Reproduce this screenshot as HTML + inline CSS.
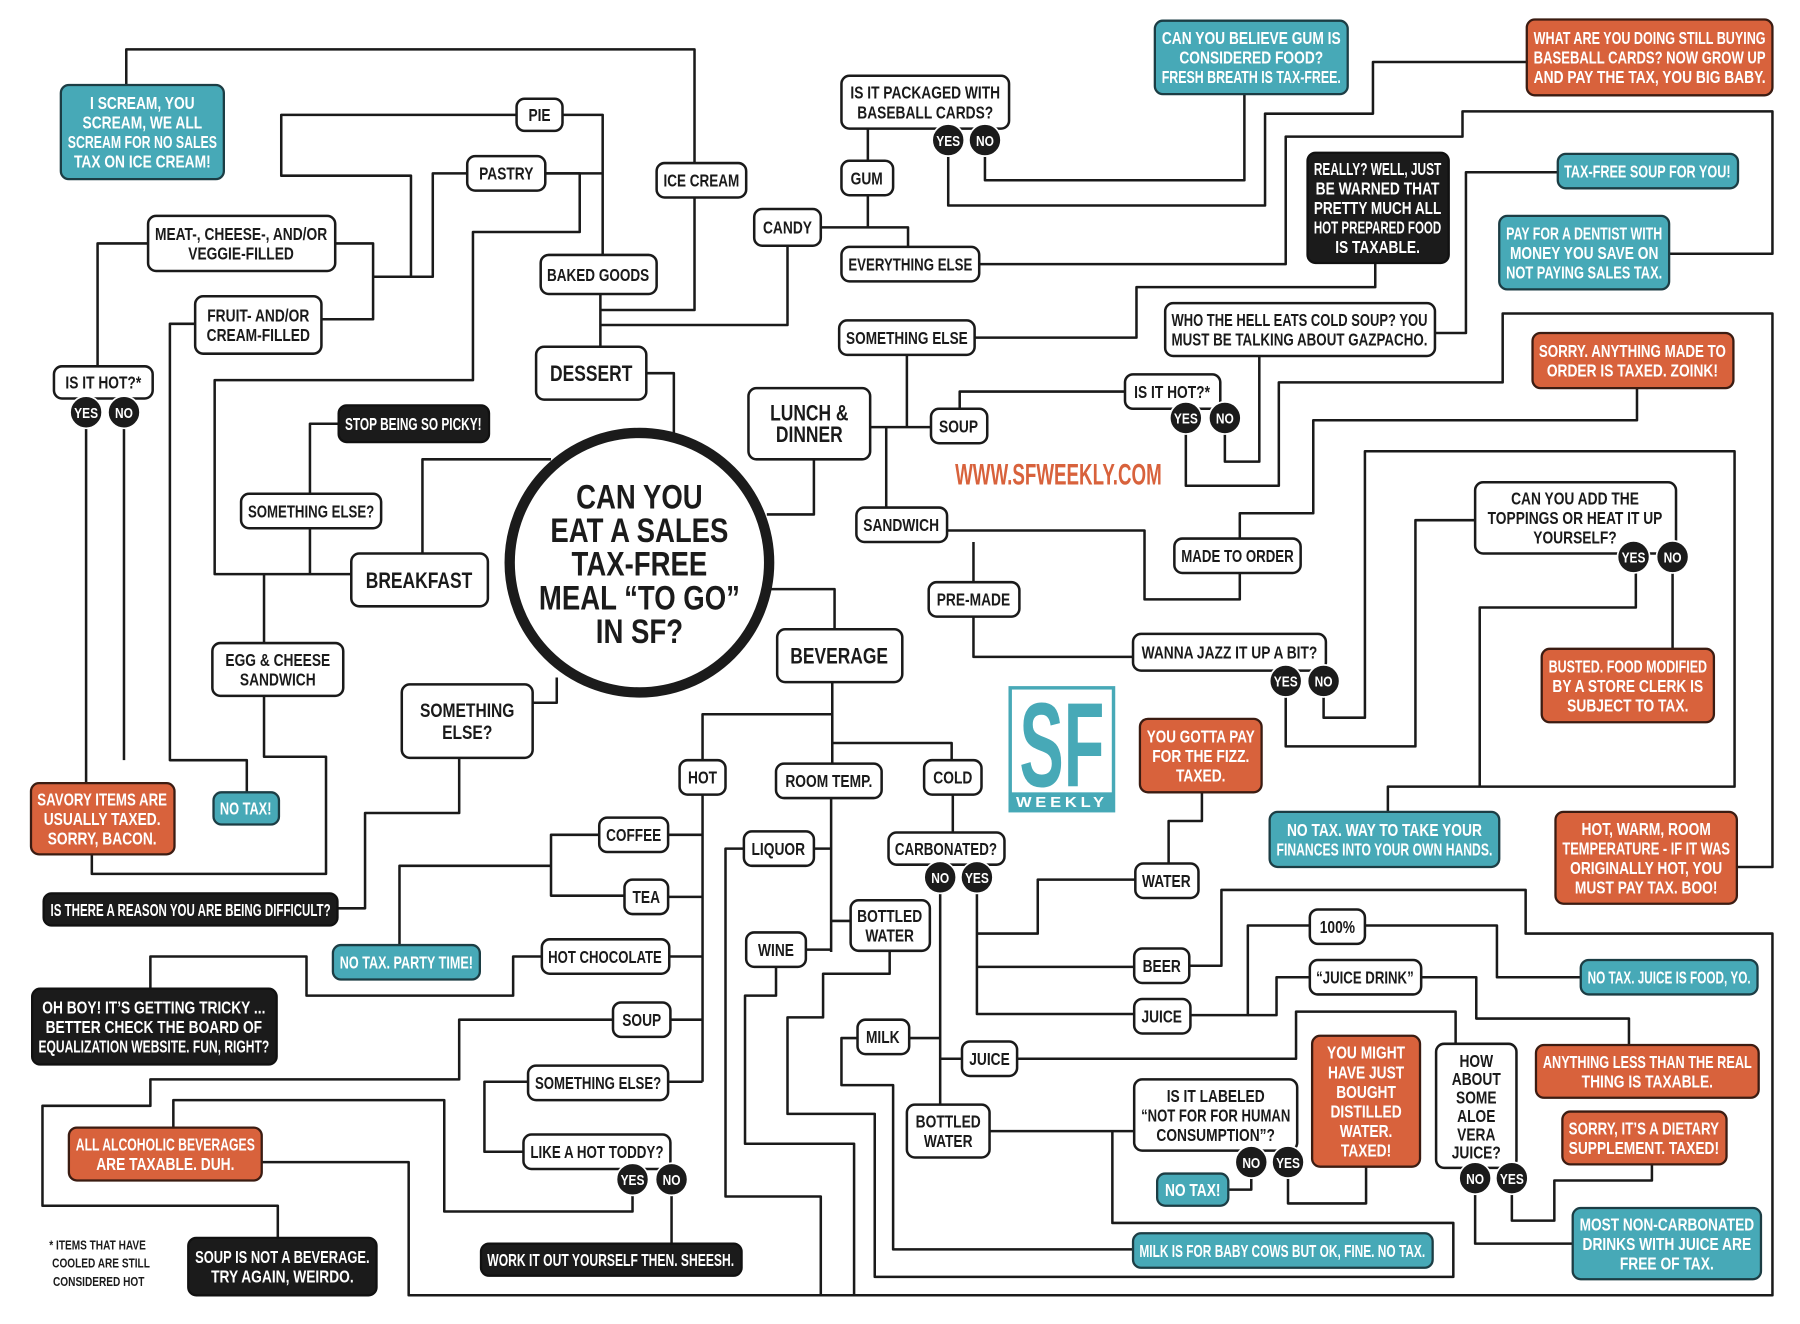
<!DOCTYPE html>
<html><head><meta charset="utf-8">
<style>
html,body{margin:0;padding:0;background:#fff;width:1800px;height:1324px;overflow:hidden}
svg{display:block}
text{font-family:"Liberation Sans Narrow","Liberation Sans",sans-serif;font-weight:bold;text-anchor:middle;font-size:15px}
.c{fill:none;stroke:#1a1a1a;stroke-width:2.2;stroke-linejoin:round}
.w{fill:#fff;stroke:#1a1a1a;stroke-width:2.2}
.t{fill:#47a9b7;stroke:#1c3d44;stroke-width:2}
.o{fill:#d8623c;stroke:#3b1c12;stroke-width:2}
.k{fill:#1b1b1b;stroke:#111;stroke-width:2}
.wt text{fill:#1a1a1a}
.ct text{fill:#fff}
.yn circle{fill:#1b1b1b;stroke:#fff;stroke-width:1.5}
.yn text{fill:#fff;font-size:13px}
.big text{font-size:19px}
</style></head><body>
<svg width="1800" height="1324" viewBox="0 0 1568 1153" preserveAspectRatio="none" xmlns="http://www.w3.org/2000/svg">
<rect width="1568" height="1153" fill="#fff"/>
<g class="c">
<polyline points="110,74 110,43 605,43 605,270 523,270"/>
<polyline points="523,256 523,302"/>
<polyline points="686,214 686,283 523,283"/>
<polyline points="490,100 525,100 525,222"/>
<polyline points="475,151 525,151"/>
<polyline points="475,151 505,151 505,202 412,202 412,331 187,331 187,500 306,500"/>
<polyline points="450,100 245,100 245,153 358,153 358,241"/>
<polyline points="407,151 377,151 377,241 325,241"/>
<polyline points="292,212 325,212 325,278 280,278"/>
<polyline points="129,212 85,212 85,319"/>
<polyline points="170,282 148,282 148,662 215,662 215,690"/>
<polyline points="108,373 108,662"/>
<polyline points="75,373 75,682"/>
<polyline points="230,560 230,500"/>
<polyline points="230,606 230,659 284,659 284,761 80,761 80,744"/>
<polyline points="295,369 270,369 270,430"/>
<polyline points="270,460 270,500"/>
<polyline points="368,482 368,400 480,400"/>
<polyline points="563,325 587,325 587,378"/>
<polyline points="709,400 709,448 668,448"/>
<polyline points="672,513 727,513 727,548"/>
<polyline points="464,612 485,612 485,590"/>
<polyline points="400,660 400,708 318,708 318,791 294,791"/>
<polyline points="758,372 811,372"/>
<polyline points="790,309 790,372"/>
<polyline points="772,372 772,442"/>
<polyline points="849,294 990,294 990,250 1198,250 1198,229"/>
<polyline points="853,230 1120,230 1120,119 1274,119 1274,97 1544,97 1544,221 1454,221"/>
<polyline points="826,136 826,179 1102,179 1102,99 1196,99 1196,54 1330,54"/>
<polyline points="858,136 858,157 1084,157 1084,82"/>
<polyline points="715,198 791,198 791,215"/>
<polyline points="756,170 756,198"/>
<polyline points="756,140 756,112"/>
<polyline points="836,356 836,341 980,341"/>
<polyline points="1033,378 1033,423 1114,423 1114,333 1309,333 1309,273 1544,273 1544,755 1513,755"/>
<polyline points="1067,378 1067,402 1097,402 1097,310"/>
<polyline points="1250,290 1277,290 1277,150 1357,150"/>
<polyline points="825,462 997,462 997,522 1080,522 1080,499"/>
<polyline points="1080,469 1080,447 1144,447 1144,366 1426,366 1426,338"/>
<polyline points="848,472 848,507"/>
<polyline points="848,537 848,572 987,572"/>
<polyline points="1120,607 1120,650 1233,650 1233,453 1285,453"/>
<polyline points="1153,607 1153,625 1189,625 1189,393 1511,393 1511,685 1209,685 1209,707"/>
<polyline points="1425,499 1425,529 1289,529 1289,685"/>
<polyline points="1457,499 1457,565"/>
<polyline points="725,594 725,665"/>
<polyline points="725,622 612,622 612,662"/>
<polyline points="725,647 829,647 829,662"/>
<polyline points="612,692 612,942"/>
<polyline points="582,727 612,727"/>
<polyline points="582,781 612,781"/>
<polyline points="583,833 612,833"/>
<polyline points="584,888 612,888"/>
<polyline points="582,942 612,942"/>
<polyline points="522,727 480,727 480,780 544,780"/>
<polyline points="480,754 348,754 348,823"/>
<polyline points="472,833 447,833 447,867 267,867 267,833 131,833 131,861"/>
<polyline points="534,888 400,888 400,940 131,940 131,963 37,963 37,1050 242,1050 242,1078"/>
<polyline points="460,942 422,942 422,1003 456,1003"/>
<polyline points="551,1041 551,1055 387,1055 387,958 151,958 151,982"/>
<polyline points="585,1041 585,1083"/>
<polyline points="228,1012 356,1012 356,1128 1544,1128 1544,813 1329,813 1329,775 1064,775 1064,841 1036,841"/>
<polyline points="724,695 724,829"/>
<polyline points="709,739 724,739"/>
<polyline points="702,827 724,827"/>
<polyline points="724,802 741,802"/>
<polyline points="648,739 632,739 632,1042 715,1042 715,1128"/>
<polyline points="676,842 676,867 649,867 649,996 744,996 744,1128"/>
<polyline points="775,828 775,848 717,848 717,886 686,886 686,970 762,970 762,1112 1266,1112 1266,1065 969,1065 969,985"/>
<polyline points="747,904 733,904 733,945 778,945 778,1088 987,1088"/>
<polyline points="792,904 819,904"/>
<polyline points="830,692 830,725"/>
<polyline points="819,778 819,962"/>
<polyline points="819,922 838,922"/>
<polyline points="851,778 851,883 988,883"/>
<polyline points="851,813 904,813 904,766 989,766"/>
<polyline points="851,842 988,842"/>
<polyline points="1018,752 1018,715 1047,715 1047,690"/>
<polyline points="862,985 988,985"/>
<polyline points="886,922 1129,922 1129,881 1268,881 1268,909"/>
<polyline points="1037,884 1087,884 1087,806 1141,806"/>
<polyline points="1087,884 1112,884 1112,851 1141,851"/>
<polyline points="1189,806 1304,806 1304,851 1377,851"/>
<polyline points="1238,851 1286,851 1286,887 1419,887 1419,910"/>
<polyline points="1317,1040 1317,1063 1354,1063 1354,1028 1439,1028 1439,1014"/>
<polyline points="1285,1040 1285,1083 1370,1083"/>
<polyline points="1090,1026 1090,1036 1070,1036"/>
<polyline points="1122,1026 1122,1048 1190,1048 1190,1016"/>
</g>

<circle cx="557" cy="490" r="113" fill="#fff" stroke="#1b1b1b" stroke-width="9"/>
<g fill="#1b1b1b">
<text class="cz" x="557" y="443" style="font-size:30px">CAN YOU</text>
<text class="cz" x="557" y="472" style="font-size:30px">EAT A SALES</text>
<text class="cz" x="557" y="501" style="font-size:30px">TAX-FREE</text>
<text class="cz" x="557" y="531" style="font-size:30px">MEAL “TO GO”</text>
<text class="cz" x="557" y="560" style="font-size:30px">IN SF?</text>
</g>

<g class="n ct"><rect class="t" x="53" y="74" width="142" height="82" rx="7"/><text x="124" y="95">I SCREAM, YOU</text><text x="124" y="112">SCREAM, WE ALL</text><text x="124" y="129">SCREAM FOR NO SALES</text><text x="124" y="146">TAX ON ICE CREAM!</text></g>
<g class="n wt"><rect class="w" x="450" y="86" width="40" height="28" rx="7"/><text x="470" y="105.5">PIE</text></g>
<g class="n wt"><rect class="w" x="407" y="136" width="68" height="30" rx="7"/><text x="441" y="156.5">PASTRY</text></g>
<g class="n wt"><rect class="w" x="572" y="142" width="78" height="30" rx="7"/><text x="611" y="162.5">ICE CREAM</text></g>
<g class="n wt"><rect class="w" x="129" y="188" width="163" height="48" rx="7"/><text x="210" y="209">MEAT-, CHEESE-, AND/OR</text><text x="210" y="226">VEGGIE-FILLED</text></g>
<g class="n wt"><rect class="w" x="471" y="222" width="101" height="34" rx="7"/><text x="521" y="244.5">BAKED GOODS</text></g>
<g class="n wt"><rect class="w" x="170" y="258" width="110" height="50" rx="7"/><text x="225" y="280">FRUIT- AND/OR</text><text x="225" y="297">CREAM-FILLED</text></g>
<g class="n wt big"><rect class="w" x="467" y="302" width="96" height="46" rx="7"/><text x="515" y="332">DESSERT</text></g>
<g class="n wt"><rect class="w" x="47" y="319" width="86" height="28" rx="7"/><text x="90" y="338.5">IS IT HOT?*</text></g>
<g class="n ct"><rect class="k" x="295" y="353" width="131" height="32" rx="7"/><text x="360" y="374.5">STOP BEING SO PICKY!</text></g>
<g class="n wt"><rect class="w" x="210" y="430" width="122" height="30" rx="7"/><text x="271" y="450.5">SOMETHING ELSE?</text></g>
<g class="n wt big"><rect class="w" x="306" y="482" width="119" height="46" rx="7"/><text x="365" y="512">BREAKFAST</text></g>
<g class="n wt"><rect class="w" x="185" y="560" width="114" height="46" rx="7"/><text x="242" y="580">EGG &amp; CHEESE</text><text x="242" y="597">SANDWICH</text></g>
<g class="n wt"><rect class="w" x="350" y="596" width="114" height="64" rx="7"/><text x="407" y="624.5" style="font-size:17px">SOMETHING</text><text x="407" y="643.5" style="font-size:17px">ELSE?</text></g>
<g class="n ct"><rect class="o" x="27" y="682" width="125" height="62" rx="7"/><text x="89" y="701.5">SAVORY ITEMS ARE</text><text x="89" y="718.5">USUALLY TAXED.</text><text x="89" y="735.5">SORRY, BACON.</text></g>
<g class="n ct"><rect class="t" x="186" y="690" width="57" height="28" rx="7"/><text x="214" y="709.5">NO TAX!</text></g>
<g class="n ct"><rect class="k" x="38" y="778" width="256" height="28" rx="7"/><text x="166" y="797.5">IS THERE A REASON YOU ARE BEING DIFFICULT?</text></g>
<g class="n ct"><rect class="t" x="290" y="823" width="128" height="30" rx="7"/><text x="354" y="843.5">NO TAX. PARTY TIME!</text></g>
<g class="n ct"><rect class="k" x="28" y="861" width="213" height="66" rx="7"/><text x="134" y="882.5">OH BOY! IT’S GETTING TRICKY ...</text><text x="134" y="899.5">BETTER CHECK THE BOARD OF</text><text x="134" y="916.5">EQUALIZATION WEBSITE. FUN, RIGHT?</text></g>
<g class="n ct"><rect class="o" x="60" y="982" width="168" height="46" rx="7"/><text x="144" y="1002">ALL ALCOHOLIC BEVERAGES</text><text x="144" y="1019">ARE TAXABLE. DUH.</text></g>
<g fill="#1b1b1b"><text class="cz" x="85" y="1088" style="font-size:11px">* ITEMS THAT HAVE</text><text class="cz" x="88" y="1104" style="font-size:11px">COOLED ARE STILL</text><text class="cz" x="86" y="1120" style="font-size:11px">CONSIDERED HOT</text></g>
<g class="n ct"><rect class="k" x="164" y="1078" width="164" height="50" rx="7"/><text x="246" y="1100">SOUP IS NOT A BEVERAGE.</text><text x="246" y="1117">TRY AGAIN, WEIRDO.</text></g>
<g class="n ct"><rect class="k" x="419" y="1083" width="227" height="28" rx="7"/><text x="532" y="1102.5">WORK IT OUT YOURSELF THEN. SHEESH.</text></g>
<g class="n wt"><rect class="w" x="456" y="988" width="128" height="30" rx="7"/><text x="520" y="1008.5">LIKE A HOT TODDY?</text></g>
<g class="n wt"><rect class="w" x="460" y="928" width="122" height="30" rx="7"/><text x="521" y="948.5">SOMETHING ELSE?</text></g>
<g class="n wt"><rect class="w" x="534" y="873" width="50" height="30" rx="7"/><text x="559" y="893.5">SOUP</text></g>
<g class="n wt"><rect class="w" x="472" y="818" width="111" height="30" rx="7"/><text x="527" y="838.5">HOT CHOCOLATE</text></g>
<g class="n wt"><rect class="w" x="544" y="766" width="38" height="30" rx="7"/><text x="563" y="786.5">TEA</text></g>
<g class="n wt"><rect class="w" x="522" y="712" width="60" height="30" rx="7"/><text x="552" y="732.5">COFFEE</text></g>
<g class="n wt"><rect class="w" x="592" y="662" width="40" height="30" rx="7"/><text x="612" y="682.5">HOT</text></g>
<g class="n wt"><rect class="w" x="676" y="665" width="92" height="30" rx="7"/><text x="722" y="685.5">ROOM TEMP.</text></g>
<g class="n wt"><rect class="w" x="805" y="662" width="50" height="30" rx="7"/><text x="830" y="682.5">COLD</text></g>
<g class="n wt"><rect class="w" x="648" y="724" width="61" height="30" rx="7"/><text x="678" y="744.5">LIQUOR</text></g>
<g class="n wt"><rect class="w" x="741" y="784" width="69" height="44" rx="7"/><text x="775" y="803">BOTTLED</text><text x="775" y="820">WATER</text></g>
<g class="n wt"><rect class="w" x="650" y="812" width="52" height="30" rx="7"/><text x="676" y="832.5">WINE</text></g>
<g class="n wt"><rect class="w" x="747" y="888" width="45" height="30" rx="7"/><text x="769" y="908.5">MILK</text></g>
<g class="n wt"><rect class="w" x="774" y="725" width="101" height="28" rx="7"/><text x="824" y="744.5">CARBONATED?</text></g>
<g class="n wt"><rect class="w" x="838" y="907" width="48" height="30" rx="7"/><text x="862" y="927.5">JUICE</text></g>
<g class="n wt"><rect class="w" x="790" y="962" width="72" height="46" rx="7"/><text x="826" y="982">BOTTLED</text><text x="826" y="999">WATER</text></g>
<g class="n wt big"><rect class="w" x="677" y="548" width="109" height="46" rx="7"/><text x="731" y="578">BEVERAGE</text></g>
<g class="n wt big"><rect class="w" x="652" y="338" width="106" height="62" rx="7"/><text x="705" y="366">LUNCH &amp;</text><text x="705" y="385">DINNER</text></g>
<g class="n wt"><rect class="w" x="746" y="442" width="79" height="30" rx="7"/><text x="785" y="462.5">SANDWICH</text></g>
<g class="n wt"><rect class="w" x="811" y="356" width="49" height="30" rx="7"/><text x="835" y="376.5">SOUP</text></g>
<g class="n wt"><rect class="w" x="809" y="507" width="79" height="30" rx="7"/><text x="848" y="527.5">PRE-MADE</text></g>
<g class="n wt"><rect class="w" x="731" y="279" width="118" height="30" rx="7"/><text x="790" y="299.5">SOMETHING ELSE</text></g>
<g class="n wt"><rect class="w" x="733" y="215" width="120" height="30" rx="7"/><text x="793" y="235.5">EVERYTHING ELSE</text></g>
<g class="n wt"><rect class="w" x="657" y="182" width="58" height="32" rx="7"/><text x="686" y="203.5">CANDY</text></g>
<g class="n wt"><rect class="w" x="733" y="140" width="45" height="30" rx="7"/><text x="755" y="160.5">GUM</text></g>
<g class="n wt"><rect class="w" x="733" y="66" width="146" height="46" rx="7"/><text x="806" y="86">IS IT PACKAGED WITH</text><text x="806" y="103">BASEBALL CARDS?</text></g>
<g class="n ct"><rect class="t" x="1006" y="18" width="168" height="64" rx="7"/><text x="1090" y="38.5">CAN YOU BELIEVE GUM IS</text><text x="1090" y="55.5">CONSIDERED FOOD?</text><text x="1090" y="72.5">FRESH BREATH IS TAX-FREE.</text></g>
<g class="n ct"><rect class="o" x="1330" y="17" width="214" height="66" rx="7"/><text x="1437" y="38.5">WHAT ARE YOU DOING STILL BUYING</text><text x="1437" y="55.5">BASEBALL CARDS? NOW GROW UP</text><text x="1437" y="72.5">AND PAY THE TAX, YOU BIG BABY.</text></g>
<g class="n ct"><rect class="k" x="1139" y="133" width="123" height="96" rx="7"/><text x="1200" y="152.5">REALLY? WELL, JUST</text><text x="1200" y="169.5">BE WARNED THAT</text><text x="1200" y="186.5">PRETTY MUCH ALL</text><text x="1200" y="203.5">HOT PREPARED FOOD</text><text x="1200" y="220.5">IS TAXABLE.</text></g>
<g class="n ct"><rect class="t" x="1357" y="134" width="157" height="30" rx="7"/><text x="1435" y="154.5">TAX-FREE SOUP FOR YOU!</text></g>
<g class="n ct"><rect class="t" x="1306" y="188" width="148" height="64" rx="7"/><text x="1380" y="208.5">PAY FOR A DENTIST WITH</text><text x="1380" y="225.5">MONEY YOU SAVE ON</text><text x="1380" y="242.5">NOT PAYING SALES TAX.</text></g>
<g class="n wt"><rect class="w" x="1015" y="264" width="235" height="46" rx="7"/><text x="1132" y="284">WHO THE HELL EATS COLD SOUP? YOU</text><text x="1132" y="301">MUST BE TALKING ABOUT GAZPACHO.</text></g>
<g class="n ct"><rect class="o" x="1335" y="290" width="175" height="48" rx="7"/><text x="1422" y="311">SORRY. ANYTHING MADE TO</text><text x="1422" y="328">ORDER IS TAXED. ZOINK!</text></g>
<g class="n wt"><rect class="w" x="980" y="326" width="83" height="30" rx="7"/><text x="1021" y="346.5">IS IT HOT?*</text></g>
<text x="922" y="422" fill="#d8623c" style="font-size:26px" textLength="180" lengthAdjust="spacingAndGlyphs">WWW.SFWEEKLY.COM</text>
<g class="n wt"><rect class="w" x="1023" y="469" width="110" height="30" rx="7"/><text x="1078" y="489.5">MADE TO ORDER</text></g>
<g class="n wt"><rect class="w" x="1285" y="420" width="175" height="62" rx="7"/><text x="1372" y="439.5">CAN YOU ADD THE</text><text x="1372" y="456.5">TOPPINGS OR HEAT IT UP</text><text x="1372" y="473.5">YOURSELF?</text></g>
<g class="n wt"><rect class="w" x="987" y="552" width="168" height="32" rx="7"/><text x="1071" y="573.5">WANNA JAZZ IT UP A BIT?</text></g>
<g class="n ct"><rect class="o" x="1343" y="565" width="150" height="64" rx="7"/><text x="1418" y="585.5">BUSTED. FOOD MODIFIED</text><text x="1418" y="602.5">BY A STORE CLERK IS</text><text x="1418" y="619.5">SUBJECT TO TAX.</text></g>
<g class="n ct"><rect class="o" x="993" y="626" width="106" height="64" rx="7"/><text x="1046" y="646.5">YOU GOTTA PAY</text><text x="1046" y="663.5">FOR THE FIZZ.</text><text x="1046" y="680.5">TAXED.</text></g>
<g class="n ct"><rect class="t" x="1106" y="707" width="200" height="48" rx="7"/><text x="1206" y="728">NO TAX. WAY TO TAKE YOUR</text><text x="1206" y="745">FINANCES INTO YOUR OWN HANDS.</text></g>
<g class="n ct"><rect class="o" x="1355" y="707" width="158" height="80" rx="7"/><text x="1434" y="727">HOT, WARM, ROOM</text><text x="1434" y="744">TEMPERATURE - IF IT WAS</text><text x="1434" y="761">ORIGINALLY HOT, YOU</text><text x="1434" y="778">MUST PAY TAX. BOO!</text></g>
<g class="n wt"><rect class="w" x="989" y="752" width="55" height="30" rx="7"/><text x="1016" y="772.5">WATER</text></g>
<g class="n wt"><rect class="w" x="1141" y="792" width="48" height="30" rx="7"/><text x="1165" y="812.5">100%</text></g>
<g class="n wt"><rect class="w" x="988" y="826" width="48" height="30" rx="7"/><text x="1012" y="846.5">BEER</text></g>
<g class="n wt"><rect class="w" x="1141" y="836" width="97" height="30" rx="7"/><text x="1189" y="856.5">“JUICE DRINK”</text></g>
<g class="n ct"><rect class="t" x="1377" y="836" width="154" height="30" rx="7"/><text x="1454" y="856.5">NO TAX. JUICE IS FOOD, YO.</text></g>
<g class="n wt"><rect class="w" x="988" y="870" width="49" height="30" rx="7"/><text x="1012" y="890.5">JUICE</text></g>
<g class="n ct"><rect class="o" x="1143" y="902" width="94" height="114" rx="7"/><text x="1190" y="922">YOU MIGHT</text><text x="1190" y="939">HAVE JUST</text><text x="1190" y="956">BOUGHT</text><text x="1190" y="973">DISTILLED</text><text x="1190" y="990">WATER.</text><text x="1190" y="1007">TAXED!</text></g>
<g class="n wt"><rect class="w" x="1251" y="909" width="70" height="108" rx="7"/><text x="1286" y="929">HOW</text><text x="1286" y="945">ABOUT</text><text x="1286" y="961">SOME</text><text x="1286" y="977">ALOE</text><text x="1286" y="993">VERA</text><text x="1286" y="1009">JUICE?</text></g>
<g class="n ct"><rect class="o" x="1338" y="910" width="194" height="46" rx="7"/><text x="1435" y="930">ANYTHING LESS THAN THE REAL</text><text x="1435" y="947">THING IS TAXABLE.</text></g>
<g class="n ct"><rect class="o" x="1361" y="968" width="143" height="46" rx="7"/><text x="1432" y="988">SORRY, IT’S A DIETARY</text><text x="1432" y="1005">SUPPLEMENT. TAXED!</text></g>
<g class="n wt"><rect class="w" x="988" y="940" width="142" height="62" rx="7"/><text x="1059" y="959.5">IS IT LABELED</text><text x="1059" y="976.5">“NOT FOR FOR HUMAN</text><text x="1059" y="993.5">CONSUMPTION”?</text></g>
<g class="n ct"><rect class="t" x="1008" y="1022" width="62" height="28" rx="7"/><text x="1039" y="1041.5">NO TAX!</text></g>
<g class="n ct"><rect class="t" x="987" y="1074" width="261" height="30" rx="7"/><text x="1117" y="1094.5">MILK IS FOR BABY COWS BUT OK, FINE. NO TAX.</text></g>
<g class="n ct"><rect class="t" x="1370" y="1052" width="164" height="62" rx="7"/><text x="1452" y="1071.5">MOST NON-CARBONATED</text><text x="1452" y="1088.5">DRINKS WITH JUICE ARE</text><text x="1452" y="1105.5">FREE OF TAX.</text></g>

<rect x="880" y="599" width="90" height="107" fill="#fff" stroke="#47a9b7" stroke-width="3"/>
<rect x="880" y="690" width="90" height="16" fill="#47a9b7"/>
<text x="925" y="685" fill="#47a9b7" style="font-size:104px" textLength="74" lengthAdjust="spacingAndGlyphs">SF</text>
<text x="925" y="703" fill="#fff" style="font-size:13px;letter-spacing:3px" textLength="80" lengthAdjust="spacingAndGlyphs">WEEKLY</text>

<g class="yn">
<circle cx="75" cy="359" r="14"/><text x="75" y="364">YES</text>
<circle cx="108" cy="359" r="14"/><text x="108" y="364">NO</text>
<circle cx="826" cy="122" r="14"/><text x="826" y="127">YES</text>
<circle cx="858" cy="122" r="14"/><text x="858" y="127">NO</text>
<circle cx="1033" cy="364" r="14"/><text x="1033" y="369">YES</text>
<circle cx="1067" cy="364" r="14"/><text x="1067" y="369">NO</text>
<circle cx="1423" cy="485" r="14"/><text x="1423" y="490">YES</text>
<circle cx="1457" cy="485" r="14"/><text x="1457" y="490">NO</text>
<circle cx="1120" cy="593" r="14"/><text x="1120" y="598">YES</text>
<circle cx="1153" cy="593" r="14"/><text x="1153" y="598">NO</text>
<circle cx="819" cy="764" r="14"/><text x="819" y="769">NO</text>
<circle cx="851" cy="764" r="14"/><text x="851" y="769">YES</text>
<circle cx="551" cy="1027" r="14"/><text x="551" y="1032">YES</text>
<circle cx="585" cy="1027" r="14"/><text x="585" y="1032">NO</text>
<circle cx="1090" cy="1012" r="14"/><text x="1090" y="1017">NO</text>
<circle cx="1122" cy="1012" r="14"/><text x="1122" y="1017">YES</text>
<circle cx="1285" cy="1026" r="14"/><text x="1285" y="1031">NO</text>
<circle cx="1317" cy="1026" r="14"/><text x="1317" y="1031">YES</text>
</g>
</svg>
<script>
(function(){
  function fit(t,max,f){
    try{
      var L=t.getComputedTextLength();
      var w=L*f;
      if(max && w>max) w=max;
      t.setAttribute('textLength',w.toFixed(1));
      t.setAttribute('lengthAdjust','spacingAndGlyphs');
    }catch(e){}
  }
  var gs=document.querySelectorAll('g.n');
  for(var i=0;i<gs.length;i++){
    var r=gs[i].querySelector('rect');
    var max=parseFloat(r.getAttribute('width'))-12;
    var ts=gs[i].querySelectorAll('text');
    for(var j=0;j<ts.length;j++) fit(ts[j],max,0.8);
  }
  var cz=document.querySelectorAll('text.cz');
  for(var k=0;k<cz.length;k++) fit(cz[k],190,0.8);
  var yn=document.querySelectorAll('.yn text');
  for(var m=0;m<yn.length;m++) fit(yn[m],22,0.8);
})();
</script>
</body></html>
